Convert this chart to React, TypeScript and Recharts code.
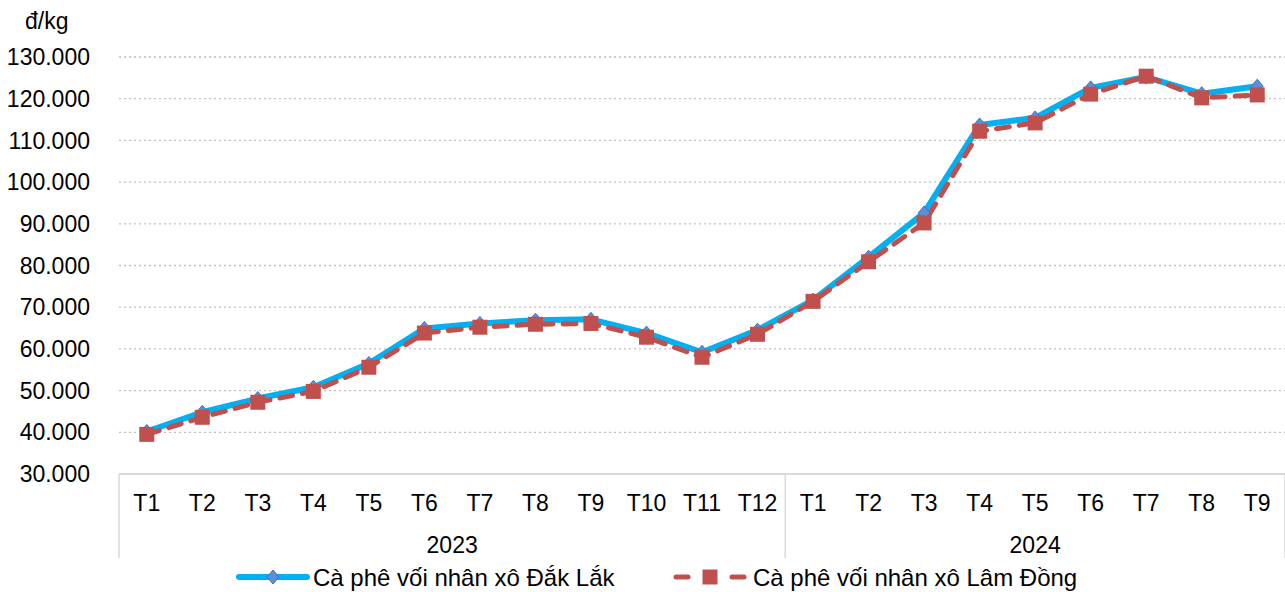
import React from "react";
import { LineChart, Line, XAxis, YAxis, CartesianGrid, Legend } from "recharts";

const monthLabels = [
  "T1", "T2", "T3", "T4", "T5", "T6", "T7", "T8", "T9", "T10", "T11", "T12",
  "T1", "T2", "T3", "T4", "T5", "T6", "T7", "T8", "T9",
];
const yearLabels = ["2023", "2024"];
const monthsPerYear = [12, 9];

const dakLak = [
  40200, 44800, 48100, 50800, 56500, 64900, 66100, 66900, 67100, 63800, 59200, 64500,
  71700, 82000, 92600, 113700, 115400, 122600, 125200, 121200, 123000,
];
const lamDong = [
  39500, 43600, 47200, 49800, 55600, 63800, 65200, 65900, 66100, 62800, 58000, 63500,
  71400, 80900, 90200, 112200, 114200, 121100, 125400, 120200, 120900,
];

const yTicks = [30000, 40000, 50000, 60000, 70000, 80000, 90000, 100000, 110000, 120000, 130000];

const FONT = '"Liberation Sans", Arial, sans-serif';
const BLUE = "#00B0F0";
const RED = "#C0504D";
const AXIS_GRAY = "#D9D9D9";

const data = monthLabels.map((m, i) => ({
  i,
  month: m,
  dakLak: dakLak[i],
  lamDong: lamDong[i],
}));

// second axis: group borders + group centres
const yearTicks: number[] = [];
const yearTickText: Record<string, string> = {};
let start = -0.5;
monthsPerYear.forEach((n, k) => {
  yearTicks.push(start);
  const c = start + n / 2;
  yearTicks.push(c);
  yearTickText[String(c)] = yearLabels[k];
  start += n;
});
yearTicks.push(start);

const fmt = (v: number) => `${v / 1000}.000`;

function MonthTick({ x, y, payload }: any) {
  return (
    <text x={x} y={y + 37} textAnchor="middle" fontSize={23} fontFamily={FONT} fill="#000">
      {monthLabels[payload.value]}
    </text>
  );
}

function YearTick({ x, y, payload }: any) {
  const label = yearTickText[String(payload.value)];
  if (label) {
    return (
      <text x={x} y={y + 35} textAnchor="middle" fontSize={23} fontFamily={FONT} fill="#000">
        {label}
      </text>
    );
  }
  return <line x1={x} x2={x} y1={y - 44} y2={y + 40} stroke={AXIS_GRAY} strokeWidth={1.5} />;
}

const diamondPath = (cx: number, cy: number) =>
  `M${cx},${cy - 7} L${cx + 6},${cy} L${cx},${cy + 7} L${cx - 6},${cy} Z`;

function ChartLegend() {
  return (
    <svg width={1285} height={34} style={{ display: "block" }}>
      <line x1={239} x2={307} y1={19} y2={19} stroke={BLUE} strokeWidth={6} strokeLinecap="round" />
      <path d={diamondPath(273, 19)} fill="#5B8FD6" stroke="#4472C4" strokeWidth={1} />
      <text x={313} y={28} fontSize={24} fontFamily={FONT} fill="#000">
        Cà phê vối nhân xô Đắk Lắk
      </text>
      <line x1={676} x2={688} y1={19} y2={19} stroke={RED} strokeWidth={5} strokeLinecap="round" />
      <line x1={732} x2={744} y1={19} y2={19} stroke={RED} strokeWidth={5} strokeLinecap="round" />
      <rect x={702.5} y={11.5} width={15} height={15} fill={RED} />
      <text x={753} y={28} fontSize={24} fontFamily={FONT} fill="#000">
        Cà phê vối nhân xô Lâm Đồng
      </text>
    </svg>
  );
}

export default function App() {
  return (
    <div style={{ position: "absolute", left: 0, top: 0, width: 1285, height: 592, fontFamily: FONT, background: "#fff" }}>
      <svg width={120} height={40} style={{ position: "absolute", left: 0, top: 0 }}>
        <text x={25} y={29} fontSize={23} fontFamily={FONT} fill="#000">đ/kg</text>
      </svg>
      <LineChart width={1285} height={592} data={data} margin={{ top: 57, right: 0, left: 0, bottom: 0 }}>
        <CartesianGrid vertical={false} stroke="#BFBFBF" strokeDasharray="2 3" strokeWidth={1.3} />
        <XAxis
          dataKey="i"
          type="number"
          domain={[-0.5, 20.5]}
          ticks={monthLabels.map((_, i) => i)}
          interval={0}
          allowDataOverflow
          height={44}
          tickSize={0}
          tickMargin={0}
          tickLine={false}
          axisLine={{ stroke: AXIS_GRAY, strokeWidth: 2 }}
          tick={<MonthTick />}
        />
        <XAxis
          xAxisId="year"
          dataKey="i"
          type="number"
          domain={[-0.5, 20.5]}
          ticks={yearTicks}
          interval={0}
          allowDataOverflow
          height={40}
          tickSize={0}
          tickMargin={0}
          tickLine={false}
          axisLine={false}
          tick={<YearTick />}
        />
        <YAxis
          width={119}
          domain={[30000, 130000]}
          ticks={yTicks}
          interval={0}
          tickSize={0}
          tickMargin={29}
          tickLine={false}
          axisLine={false}
          tickFormatter={fmt}
          tick={{ fill: "#000", fontSize: 23, fontFamily: FONT }}
        />
        <Legend
          verticalAlign="bottom"
          wrapperStyle={{ left: 0, bottom: 0, width: 1285, height: 34 }}
          content={() => <ChartLegend />}
        />
        <Line
          dataKey="dakLak"
          name="Cà phê vối nhân xô Đắk Lắk"
          type="linear"
          stroke={BLUE}
          strokeWidth={6}
          strokeLinejoin="round"
          isAnimationActive={false}
          dot={(p: any) => (
            <path key={`d-${p.index}`} d={diamondPath(p.cx, p.cy)} fill="#5B8FD6" stroke="#4472C4" strokeWidth={1} />
          )}
          activeDot={false}
        />
        <Line
          dataKey="lamDong"
          name="Cà phê vối nhân xô Lâm Đồng"
          type="linear"
          stroke={RED}
          strokeWidth={5}
          strokeDasharray="13 10"
          strokeLinecap="round"
          strokeLinejoin="round"
          isAnimationActive={false}
          dot={(p: any) => (
            <rect key={`s-${p.index}`} x={p.cx - 7.5} y={p.cy - 7.5} width={15} height={15} fill={RED} />
          )}
          activeDot={false}
        />
      </LineChart>
    </div>
  );
}
